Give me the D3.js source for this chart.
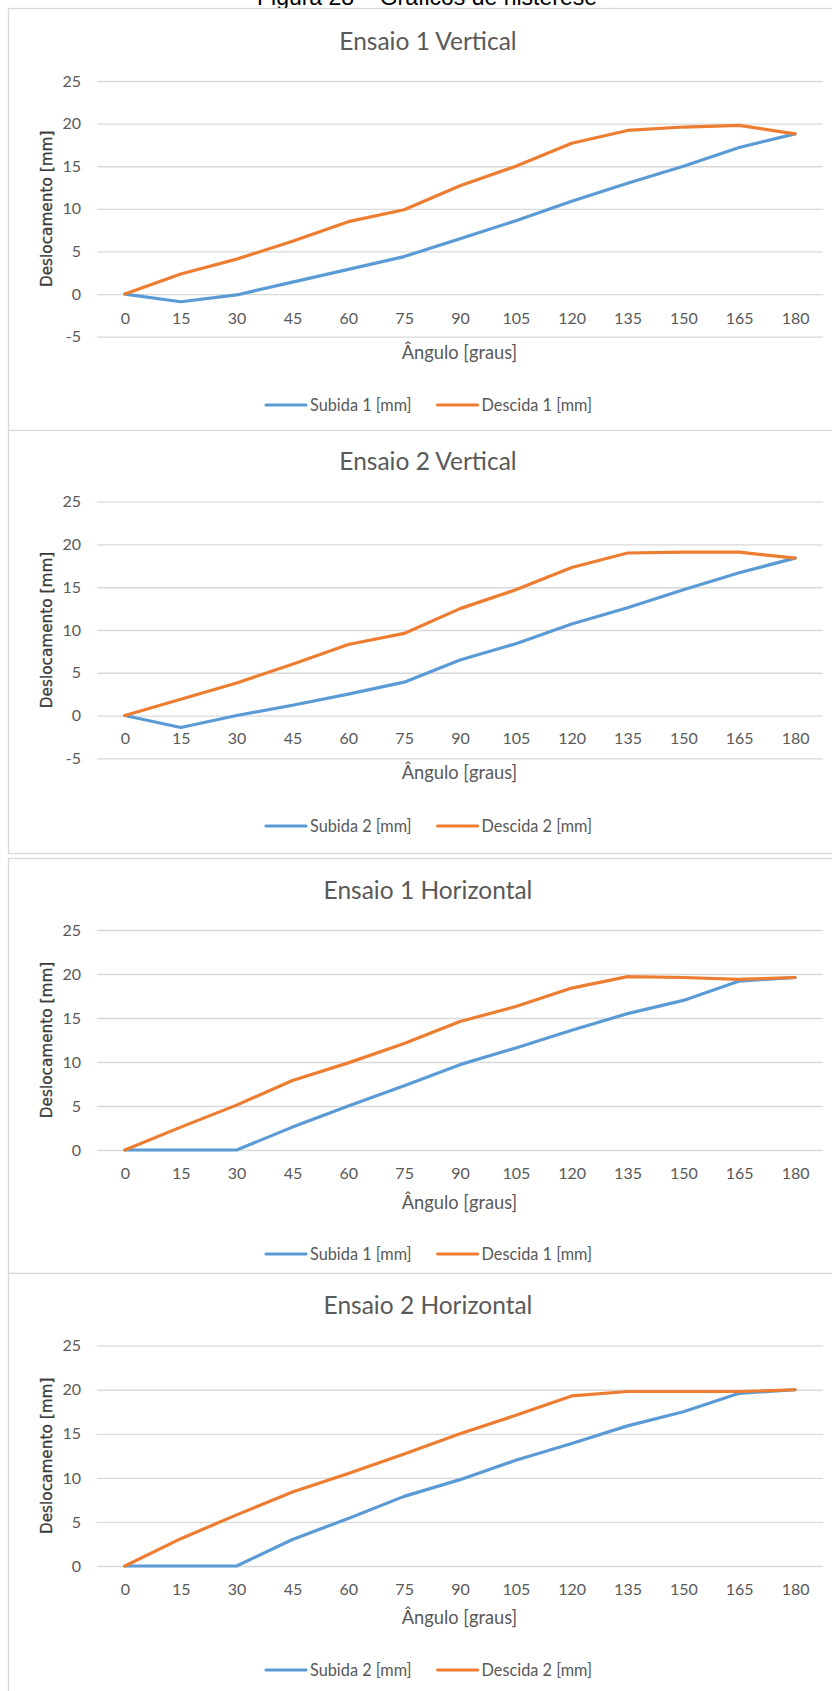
<!DOCTYPE html>
<html>
<head>
<meta charset="utf-8">
<script src="https://cdn.jsdelivr.net/npm/d3@7"></script>
<style>
  html, body { margin: 0; padding: 0; background: #fff; }
  svg { display: block; }
</style>
</head>
<body>
<svg id="fig" width="832" height="1691"></svg>
<script>
// ---------------- DATA ----------------
const caption = "Figura 28 – Gráficos de histerese";
const angles = [0, 15, 30, 45, 60, 75, 90, 105, 120, 135, 150, 165, 180];
const yTicksVertical = [-5, 0, 5, 10, 15, 20, 25];
const yTicksHorizontal = [0, 5, 10, 15, 20, 25];
const xAxisTitle = "Ângulo [graus]";
const yAxisTitle = "Deslocamento [mm]";
const chartTitles = ["Ensaio 1 Vertical", "Ensaio 2 Vertical", "Ensaio 1 Horizontal", "Ensaio 2 Horizontal"];
const subidaLabels = ["Subida 1 [mm]", "Subida 2 [mm]", "Subida 1 [mm]", "Subida 2 [mm]"];
const descidaLabels = ["Descida 1 [mm]", "Descida 2 [mm]", "Descida 1 [mm]", "Descida 2 [mm]"];

const subida1V  = [0, -0.9, -0.1, 1.4, 2.9, 4.4, 6.5, 8.6, 10.9, 13.0, 15.0, 17.2, 18.8];
const descida1V = [0, 2.35, 4.1, 6.2, 8.5, 9.9, 12.7, 15.0, 17.7, 19.2, 19.6, 19.8, 18.8];
const subida2V  = [0, -1.4, 0.0, 1.2, 2.5, 3.9, 6.5, 8.4, 10.7, 12.6, 14.7, 16.7, 18.4];
const descida2V = [0, 1.9, 3.8, 6.0, 8.3, 9.6, 12.5, 14.7, 17.3, 19.0, 19.1, 19.1, 18.4];
const subida1H  = [0, 0, 0, 2.6, 5.0, 7.3, 9.7, 11.6, 13.6, 15.5, 17.0, 19.2, 19.6];
const descida1H = [0, 2.6, 5.1, 7.9, 9.9, 12.1, 14.6, 16.3, 18.4, 19.7, 19.6, 19.4, 19.6];
const subida2H  = [0, 0, 0, 3.0, 5.4, 7.9, 9.8, 12.0, 13.9, 15.9, 17.5, 19.6, 20.0];
const descida2H = [0, 3.1, 5.8, 8.4, 10.5, 12.7, 15.0, 17.1, 19.3, 19.8, 19.8, 19.8, 20.0];

const subidaSeries = [subida1V, subida2V, subida1H, subida2H];
const descidaSeries = [descida1V, descida2V, descida1H, descida2H];
const yTickSets = [yTicksVertical, yTicksVertical, yTicksHorizontal, yTicksHorizontal];

// ---------------- STYLE / LAYOUT ----------------
const COLOR_SUB = "#5B9BD5";
const COLOR_DES = "#ED7D31";
const GRID = "#D9D9D9";
const TEXT = "#595959";
const FONT = "Lato, 'Open Sans', sans-serif";

// per-panel layout (pixels)
const panels = [
  { top: 8,    bottom: 430,  title: 41.7,   yTop: 81,     yBot: 336.7, labels: 318.3,  xTitle: 353,    legend: 405 },
  { top: 430,  bottom: 853,  title: 461.7,  yTop: 501.7,  yBot: 758.3, labels: 738,    xTitle: 773,    legend: 826 },
  { top: 858,  bottom: 1273, title: 890,    yTop: 930,    yBot: 1150,  labels: 1173.3, xTitle: 1202.7, legend: 1254 },
  { top: 1273, bottom: 1720, title: 1305.7, yTop: 1345.7, yBot: 1566,  labels: 1589,   xTitle: 1618,   legend: 1670 }
];
const PANEL_LEFT = 8, PANEL_RIGHT = 848;
const PLOT_LEFT = 97, PLOT_RIGHT = 823;
const CENTER_X = 428;

const svg = d3.select("#fig");

// caption (partly cut off at the top, as in the source)
svg.append("text")
  .attr("x", 427).attr("y", 5)
  .attr("text-anchor", "middle")
  .attr("font-family", "'Liberation Sans', Arial, sans-serif")
  .attr("font-size", 23)
  .attr("fill", "#000")
  .text(caption);

panels.forEach((p, k) => {
  const g = svg.append("g");
  // panel border
  g.append("rect")
    .attr("x", PANEL_LEFT + 0.5).attr("y", p.top + 0.5)
    .attr("width", PANEL_RIGHT - PANEL_LEFT).attr("height", p.bottom - p.top)
    .attr("fill", "#fff").attr("stroke", GRID).attr("stroke-width", 1.3);

  const ticks = yTickSets[k];
  const x = d3.scalePoint().domain(angles).range([PLOT_LEFT, PLOT_RIGHT]).padding(0.5);
  const y = d3.scaleLinear().domain([d3.min(ticks), d3.max(ticks)]).range([p.yBot, p.yTop]);

  // title
  g.append("text")
    .attr("x", CENTER_X).attr("y", p.title)
    .attr("dy", "0.35em")
    .attr("text-anchor", "middle")
    .attr("font-family", FONT).attr("font-size", 24.5)
    .attr("fill", TEXT)
    .text(chartTitles[k]);

  // gridlines + y labels via axis
  const yAxis = d3.axisLeft(y).tickValues(ticks).tickSize(-(PLOT_RIGHT - PLOT_LEFT)).tickPadding(16).tickFormat(d => String(d));
  const ya = g.append("g").attr("transform", `translate(${PLOT_LEFT},0)`).call(yAxis);
  ya.select(".domain").remove();
  ya.selectAll(".tick line").attr("stroke", GRID).attr("stroke-width", 1.3);
  ya.selectAll(".tick text")
    .attr("font-family", FONT).attr("font-size", 16).attr("fill", TEXT)
    .attr("x", -16);

  // x labels via axis (no lines)
  const xAxis = d3.axisBottom(x).tickSize(0).tickPadding(0);
  const xa = g.append("g").attr("transform", `translate(0,${p.labels})`).call(xAxis);
  xa.select(".domain").remove();
  xa.selectAll(".tick text")
    .attr("font-family", FONT).attr("font-size", 16).attr("fill", TEXT)
    .attr("y", 0).attr("dy", "0.35em");

  // axis titles
  g.append("text")
    .attr("x", 459.5).attr("y", p.xTitle).attr("dy", "0.35em")
    .attr("text-anchor", "middle")
    .attr("font-family", FONT).attr("font-size", 18.3).attr("fill", TEXT)
    .text(xAxisTitle);
  g.append("text")
    .attr("transform", `translate(47,${(p.yTop + p.yBot) / 2}) rotate(-90)`)
    .attr("dy", "0.35em")
    .attr("text-anchor", "middle")
    .attr("font-family", "'DejaVu Sans', Verdana, sans-serif").attr("font-size", 15.3)
    .attr("fill", "#3a3a3a")
    .attr("stroke", "#3a3a3a").attr("stroke-width", 0.3)
    .text(yAxisTitle);

  // series lines
  const line = d3.line().x((d, i) => x(angles[i])).y(d => y(d));
  g.append("path").datum(subidaSeries[k])
    .attr("d", line).attr("fill", "none")
    .attr("stroke", COLOR_SUB).attr("stroke-width", 3.2)
    .attr("stroke-linejoin", "round").attr("stroke-linecap", "round");
  g.append("path").datum(descidaSeries[k])
    .attr("d", line).attr("fill", "none")
    .attr("stroke", COLOR_DES).attr("stroke-width", 3.2)
    .attr("stroke-linejoin", "round").attr("stroke-linecap", "round");

  // legend
  const lg = g.append("g");
  const items = [
    { label: subidaLabels[k], color: COLOR_SUB },
    { label: descidaLabels[k], color: COLOR_DES }
  ];
  let cx = 0;
  items.forEach((it, j) => {
    lg.append("line")
      .attr("x1", cx).attr("x2", cx + 40)
      .attr("y1", p.legend).attr("y2", p.legend)
      .attr("stroke", it.color).attr("stroke-width", 3.2).attr("stroke-linecap", "round");
    const t = lg.append("text")
      .attr("x", cx + 44).attr("y", p.legend).attr("dy", "0.35em")
      .attr("font-family", FONT).attr("font-size", 16.3).attr("fill", TEXT)
      .text(it.label);
    const w = t.node().getComputedTextLength();
    cx += 44 + w + (j === 0 ? 26 : 0);
  });
  lg.attr("transform", `translate(${429 - cx / 2},0)`);
});
</script>
</body>
</html>
